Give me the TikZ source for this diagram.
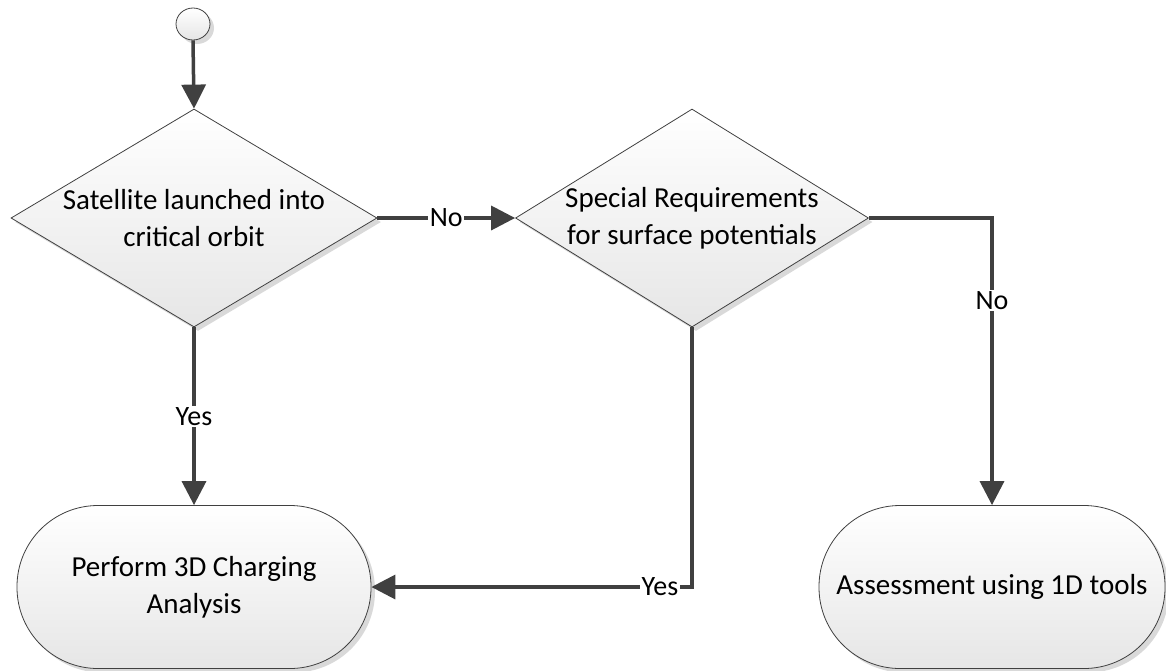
\documentclass[tikz,border=0pt]{standalone}
\usepackage{fontspec}
\setmainfont{Carlito}
\usetikzlibrary{arrows.meta,shapes.geometric,shadows}
\definecolor{edge}{HTML}{404040}
\definecolor{shade}{HTML}{E6E6E6}
\tikzset{
  box/.style={draw=edge, line width=0.8pt, top color=white, bottom color=shade,
    drop shadow={shadow xshift=4pt, shadow yshift=-4pt, fill=black!15, opacity=1}},
  dia/.style={box, shape=diamond, inner sep=0pt},
  stadium/.style={box, shape=rectangle, rounded corners=81pt, inner sep=0pt,
    minimum height=163pt, align=center},
  txt/.style={align=center, font=\fontsize{29}{37}\selectfont},
  conn/.style={draw=edge, line width=3.5pt, -{Triangle[length=24pt,width=24pt]}},
  lbl/.style={fill=white, inner sep=1.5pt, font=\fontsize{28}{34}\selectfont, text=black}
}
\begin{document}
\begin{tikzpicture}[x=1pt,y=-1pt]
\useasboundingbox (0,0) rectangle (1166,670);
% start
\node[box, shape=ellipse, minimum width=34pt, minimum height=32pt, inner sep=0pt] (start) at (193,24) {};
% decisions
\node[dia, minimum width=366pt, minimum height=218pt] (d1) at (194,218) {};
\node[txt] (d1t) at (194,218) {Satellite launched into\\critical orbit};
\node[dia, minimum width=353pt, minimum height=218pt] (d2) at (692,218) {};
\node[txt] (d2t) at (692,218) {Special Requirements\\for surface potentials};
% terminals
\node[stadium, minimum width=354pt, txt] (s1) at (194,587) {Perform 3D Charging\\Analysis};
\node[stadium, minimum width=346pt, txt] (s2) at (992,587) {Assessment using 1D tools};
% connectors
\draw[conn] (start.south) -- (d1.north);
\draw[conn] (d1.east) -- node[lbl] (l1) {No} (d2.west);
\draw[conn] (d1.south) -- node[lbl] (l2) {Yes} (s1.north);
\draw[conn] (d2.south) |- node[lbl, pos=0.55] (l3) {Yes} (s1.east);
\draw[conn] (d2.east) -| node[lbl, pos=0.643] (l4) {No} (s2.north);
\end{tikzpicture}
\end{document}
